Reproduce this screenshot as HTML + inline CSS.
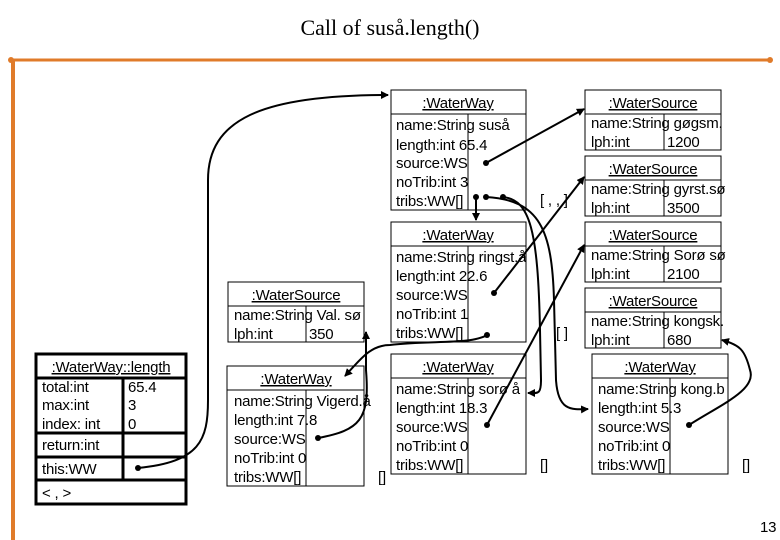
<!DOCTYPE html>
<html><head><meta charset="utf-8"><style>
body{margin:0;background:#fff}
svg{display:block}
text{font-family:"Liberation Sans",sans-serif;font-size:15px;fill:#000;letter-spacing:-0.2px}
.t{font-family:"Liberation Serif",serif;font-size:22px;letter-spacing:0}
</style></head><body>
<svg width="780" height="540" viewBox="0 0 780 540">
<defs><marker id="a" markerWidth="8" markerHeight="8" refX="7" refY="4" orient="auto" markerUnits="userSpaceOnUse"><path d="M0,0 L8,4 L0,8z" fill="#000"/></marker></defs>
<text class="t" x="390" y="35" text-anchor="middle">Call of suså.length()</text>
<line x1="11" y1="60" x2="770" y2="60" stroke="#e07b2a" stroke-width="3"/>
<circle cx="11" cy="60" r="3" fill="#e07b2a"/><circle cx="770" cy="60" r="3" fill="#e07b2a"/>
<line x1="13" y1="60" x2="13" y2="540" stroke="#e07b2a" stroke-width="4"/>
<g fill="none" stroke="#000" stroke-width="1">
<rect x="391" y="90" width="135" height="120"/><line x1="391" y1="114" x2="526" y2="114"/><line x1="468" y1="114" x2="468" y2="210"/>
<rect x="391" y="222" width="135" height="120"/><line x1="391" y1="246" x2="526" y2="246"/><line x1="468" y1="246" x2="468" y2="342"/>
<rect x="391" y="354" width="135" height="120"/><line x1="391" y1="378" x2="526" y2="378"/><line x1="468" y1="378" x2="468" y2="474"/>
<rect x="592" y="354" width="136" height="120"/><line x1="592" y1="378" x2="728" y2="378"/><line x1="670" y1="378" x2="670" y2="474"/>
<rect x="227" y="366" width="137" height="120"/><line x1="227" y1="390" x2="364" y2="390"/><line x1="306" y1="390" x2="306" y2="486"/>
<rect x="585" y="90" width="136" height="60"/><line x1="585" y1="114" x2="721" y2="114"/><line x1="664" y1="114" x2="664" y2="150"/>
<rect x="585" y="156" width="136" height="60"/><line x1="585" y1="180" x2="721" y2="180"/><line x1="664" y1="180" x2="664" y2="216"/>
<rect x="585" y="222" width="136" height="60"/><line x1="585" y1="246" x2="721" y2="246"/><line x1="664" y1="246" x2="664" y2="282"/>
<rect x="585" y="288" width="136" height="60"/><line x1="585" y1="312" x2="721" y2="312"/><line x1="664" y1="312" x2="664" y2="348"/>
<rect x="228" y="282" width="136" height="60"/><line x1="228" y1="306" x2="364" y2="306"/><line x1="306" y1="306" x2="306" y2="342"/>
</g>
<g fill="none" stroke="#000" stroke-width="3">
<rect x="36" y="354" width="150" height="150"/><line x1="36" y1="378" x2="186" y2="378"/><line x1="123" y1="378" x2="123" y2="480"/>
<line x1="36" y1="433" x2="186" y2="433"/><line x1="36" y1="457" x2="186" y2="457"/><line x1="36" y1="480" x2="186" y2="480"/>
</g>
<g text-decoration="underline" text-anchor="middle">
<text x="458" y="108">:WaterWay</text><text x="458" y="240">:WaterWay</text><text x="458" y="372">:WaterWay</text>
<text x="660" y="372">:WaterWay</text><text x="296" y="384">:WaterWay</text>
<text x="653" y="108">:WaterSource</text><text x="653" y="174">:WaterSource</text><text x="653" y="240">:WaterSource</text><text x="653" y="306">:WaterSource</text>
<text x="296" y="300">:WaterSource</text><text x="111" y="372">:WaterWay::length</text>
</g>
<g>
<text x="396" y="130">name:String suså</text><text x="396" y="150">length:int 65.4</text><text x="396" y="168">source:WS</text><text x="396" y="187">noTrib:int 3</text><text x="396" y="206">tribs:WW[]</text>
<text x="396" y="262">name:String ringst.å</text><text x="396" y="281">length:int 22.6</text><text x="396" y="300">source:WS</text><text x="396" y="319">noTrib:int 1</text><text x="396" y="338">tribs:WW[]</text>
<text x="396" y="394">name:String sorø å</text><text x="396" y="413">length:int 18.3</text><text x="396" y="432">source:WS</text><text x="396" y="451">noTrib:int 0</text><text x="396" y="470">tribs:WW[]</text>
<text x="598" y="394">name:String kong.b</text><text x="598" y="413">length:int 5.3</text><text x="598" y="432">source:WS</text><text x="598" y="451">noTrib:int 0</text><text x="598" y="470">tribs:WW[]</text>
<text x="234" y="406">name:String Vigerd.å</text><text x="234" y="425">length:int 7.8</text><text x="234" y="444">source:WS</text><text x="234" y="463">noTrib:int 0</text><text x="234" y="482">tribs:WW[]</text>
<text x="591" y="128">name:String gøgsm.</text><text x="591" y="147">lph:int</text><text x="667" y="147">1200</text>
<text x="591" y="194">name:String gyrst.sø</text><text x="591" y="213">lph:int</text><text x="667" y="213">3500</text>
<text x="591" y="260">name:String Sorø sø</text><text x="591" y="279">lph:int</text><text x="667" y="279">2100</text>
<text x="591" y="326">name:String kongsk.</text><text x="591" y="345">lph:int</text><text x="667" y="345">680</text>
<text x="234" y="320">name:String Val. sø</text><text x="234" y="339">lph:int</text><text x="309" y="339">350</text>
<text x="42" y="392">total:int</text><text x="128" y="392">65.4</text>
<text x="42" y="410">max:int</text><text x="128" y="410">3</text>
<text x="42" y="429">index: int</text><text x="128" y="429">0</text>
<text x="42" y="450">return:int</text><text x="42" y="474">this:WW</text>
<text x="42" y="498">&lt;    ,    &gt;</text>
<text x="540" y="205">[  ,  ,  ]</text><text x="556" y="338">[ ]</text><text x="540" y="470">[]</text><text x="742" y="470">[]</text><text x="378" y="482">[]</text>
<text x="760" y="532" font-size="11">13</text>
</g>
<g fill="none" stroke="#000" stroke-width="2">
<path d="M138,468 C200,462 208,440 208,400 L208,180 C208,120 260,95 388,95" marker-end="url(#a)"/>
<path d="M486,163 L584,109" marker-end="url(#a)"/>
<path d="M476,197 L476,220" marker-end="url(#a)"/>
<path d="M486,197 C540,200 552,230 554,300 L556,380 C558,410 570,410 588,409" marker-end="url(#a)"/>
<path d="M503,197 C530,200 538,230 540,330 L541,380 C541,395 538,393 528,393" marker-end="url(#a)"/>
<path d="M494,293 L584,177" marker-end="url(#a)"/>
<path d="M487,335 C470,345 430,340 390,345 C370,345 360,360 345,376" marker-end="url(#a)"/>
<path d="M487,425 L584,245" marker-end="url(#a)"/>
<path d="M689,425 C720,405 757,390 750,370 C745,350 740,345 722,340" marker-end="url(#a)"/>
<path d="M318,438 C360,430 370,420 366,370 L366,332" marker-end="url(#a)"/>
</g>
<g fill="#000"><circle cx="138" cy="468" r="3"/><circle cx="486" cy="163" r="3"/><circle cx="476" cy="197" r="3"/><circle cx="486" cy="197" r="3"/><circle cx="503" cy="197" r="3"/><circle cx="494" cy="293" r="3"/><circle cx="487" cy="335" r="3"/><circle cx="487" cy="425" r="3"/><circle cx="689" cy="425" r="3"/><circle cx="318" cy="438" r="3"/></g>
</svg>
</body></html>
